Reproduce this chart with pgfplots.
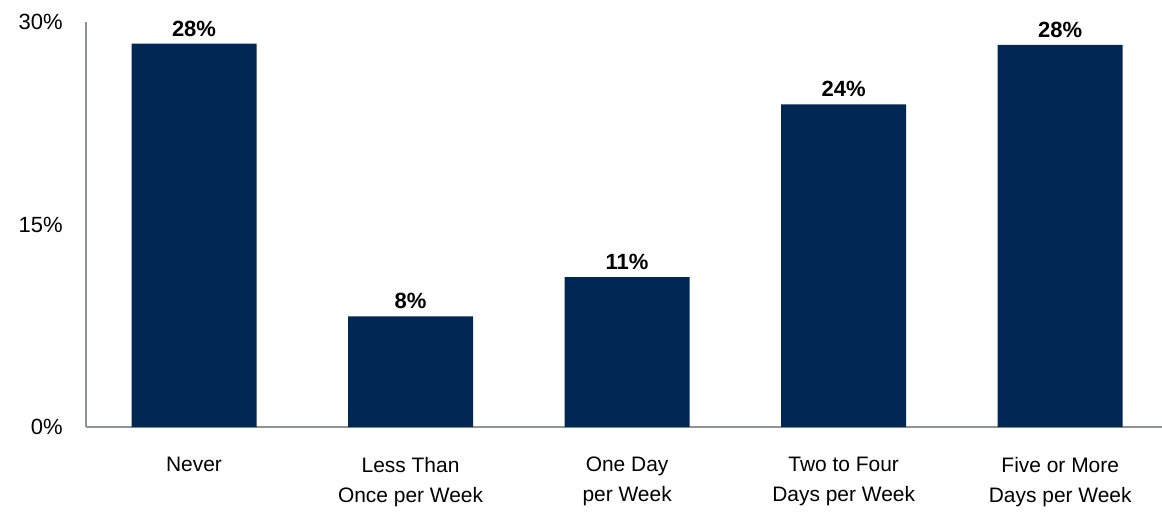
\documentclass[border=0pt]{standalone}
\usepackage{pgfplots}
\pgfplotsset{compat=1.18}
\usepackage{fontspec}
\setmainfont{Liberation Sans}
\definecolor{navy}{HTML}{012754}
\definecolor{axgray}{HTML}{8E9494}
\begin{document}
\begin{tikzpicture}
\path[use as bounding box] (-64.5pt,-63pt) rectangle (807pt,320.25pt);
\begin{axis}[
  at={(0,0)}, anchor=south west,
  scale only axis,
  width=807pt, height=303.75pt,
  ymin=0, ymax=30,
  xmin=-0.4988, xmax=4.47,
  ytick={0,15,30},
  yticklabel={\pgfmathprintnumber{\tick}\%},
  /pgf/number format/assume math mode=true,
  xtick={0,1,2,3,4},
  xticklabels={Never, Less Than\\Once per Week, One Day\\per Week, Two to Four\\Days per Week, Five or More\\Days per Week},
  xticklabel style={align=center, font=\fontsize{15.7}{22.5}\selectfont, yshift=-19pt},
  yticklabel style={font=\fontsize{16.5}{18}\selectfont, xshift=-14pt},
  axis x line=bottom, axis y line=left,
  axis line style={axgray, line width=1.2pt, -},
  major tick length=0pt,
  ybar, bar width=93.75pt,
  nodes near coords,
  point meta=explicit symbolic,
  nodes near coords style={font=\fontsize{16.5}{18}\selectfont\bfseries, black, yshift=2pt},
]
\addplot[fill=navy, draw=none] coordinates {
  (0,28.4) [28\%]
  (1,8.2) [8\%]
  (2,11.1) [11\%]
  (3,23.9) [24\%]
  (4,28.3) [28\%]
};
\end{axis}
\end{tikzpicture}
\end{document}
